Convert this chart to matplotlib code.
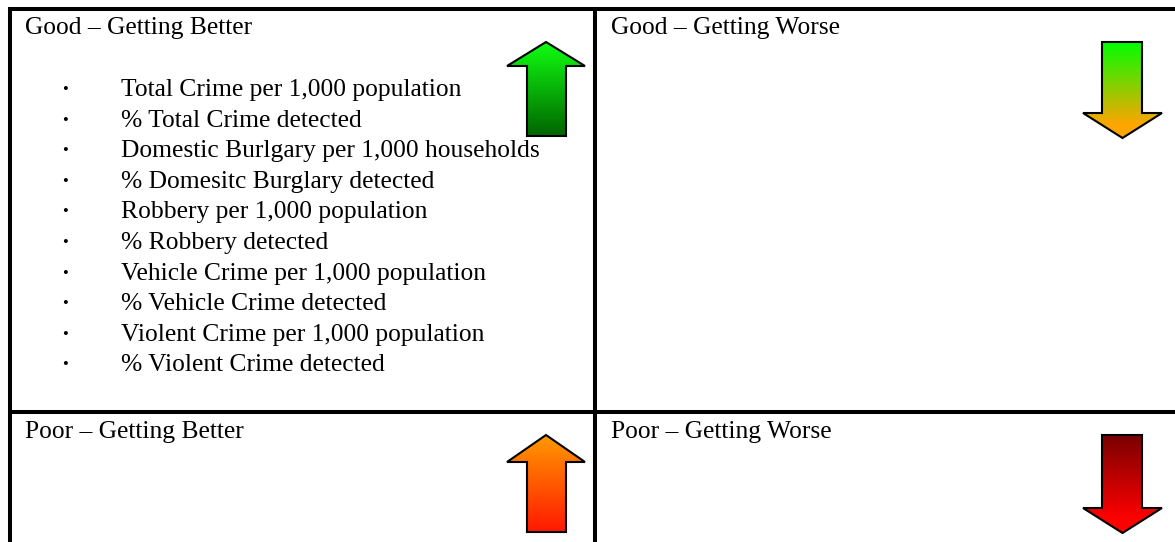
import numpy as np
import matplotlib
matplotlib.use("Agg")
import matplotlib.pyplot as plt
from matplotlib.patches import Polygon
from matplotlib.colors import LinearSegmentedColormap

# textos del cuadro
titulos = ["Good \u2013 Getting Better", "Good \u2013 Getting Worse",
           "Poor \u2013 Getting Better", "Poor \u2013 Getting Worse"]
indicadores = [
    "Total Crime per 1,000 population",
    "% Total Crime detected",
    "Domestic Burlgary per 1,000 households",
    "% Domesitc Burglary detected",
    "Robbery per 1,000 population",
    "% Robbery detected",
    "Vehicle Crime per 1,000 population",
    "% Vehicle Crime detected",
    "Violent Crime per 1,000 population",
    "% Violent Crime detected",
]
# direccion de cada flecha y colores (arriba, abajo)
direcciones = ["up", "down", "up", "down"]
colores = [("#10ff10", "#006400"), ("#00ff00", "#ffa500"),
           ("#ff9a00", "#ff1800"), ("#7a0000", "#ff0000")]

fig = plt.figure(figsize=(11.75, 5.42), dpi=100)
ax = fig.add_axes([0, 0, 1, 1])
ax.set_xlim(0, 1175)
ax.set_ylim(542, 0)
ax.axis("off")

fuente = "Liberation Serif"
grosor = 2.9
tam = 18.4

# lineas del cuadro
ax.plot([8, 1175], [9, 9], color="black", lw=grosor, solid_capstyle="butt")
ax.plot([10, 10], [7, 542], color="black", lw=grosor, solid_capstyle="butt")
ax.plot([594.5, 594.5], [7, 542], color="black", lw=grosor, solid_capstyle="butt")
ax.plot([8, 1175], [412, 412], color="black", lw=grosor, solid_capstyle="butt")

# titulos
pos_titulos = [(25, 34), (611, 34), (25, 438), (611, 438)]
for t, (x, y) in zip(titulos, pos_titulos):
    ax.text(x, y, t, fontsize=tam, family=fuente, va="baseline", ha="left")

# lista
for i, item in enumerate(indicadores):
    y = 96 + i * 30.6
    ax.text(65, y - 6, "\u2022", fontsize=12, family=fuente, va="center", ha="center")
    ax.text(121, y, item, fontsize=tam, family=fuente, va="baseline", ha="left")


def flecha(x0, x1, s0, s1, ytop, ycuello, ybase, direccion, c_arriba, c_abajo):
    xm = (x0 + x1) / 2
    if direccion == "up":
        pts = [(xm, ytop), (x1, ycuello), (s1, ycuello), (s1, ybase),
               (s0, ybase), (s0, ycuello), (x0, ycuello)]
        ext = (x0, x1, ybase, ytop)
    else:
        pts = [(s0, ytop), (s1, ytop), (s1, ycuello), (x1, ycuello),
               (xm, ybase), (x0, ycuello), (s0, ycuello)]
        ext = (x0, x1, ycuello + 12, ytop)
    cmap = LinearSegmentedColormap.from_list("g", [c_arriba, c_abajo])
    grad = np.linspace(0, 1, 256).reshape(-1, 1)
    fondo = Polygon(pts, closed=True, facecolor=c_abajo, edgecolor="none", zorder=1.5)
    ax.add_patch(fondo)
    im = ax.imshow(grad, cmap=cmap, aspect="auto",
                   extent=ext, origin="upper", zorder=2)
    poly = Polygon(pts, closed=True, facecolor="none", edgecolor="black",
                   lw=1.5, zorder=3, joinstyle="miter")
    ax.add_patch(poly)
    im.set_clip_path(poly)


flecha(507, 585, 527, 566, 42, 66, 136, direcciones[0], *colores[0])
flecha(1083, 1162, 1102, 1142, 42, 113, 138, direcciones[1], *colores[1])
flecha(507, 585, 527, 566, 435, 462, 532, direcciones[2], *colores[2])
flecha(1083, 1162, 1102, 1142, 435, 508, 533, direcciones[3], *colores[3])

ax.set_xlim(0, 1175)
ax.set_ylim(542, 0)
fig.savefig("out.png", dpi=100)
